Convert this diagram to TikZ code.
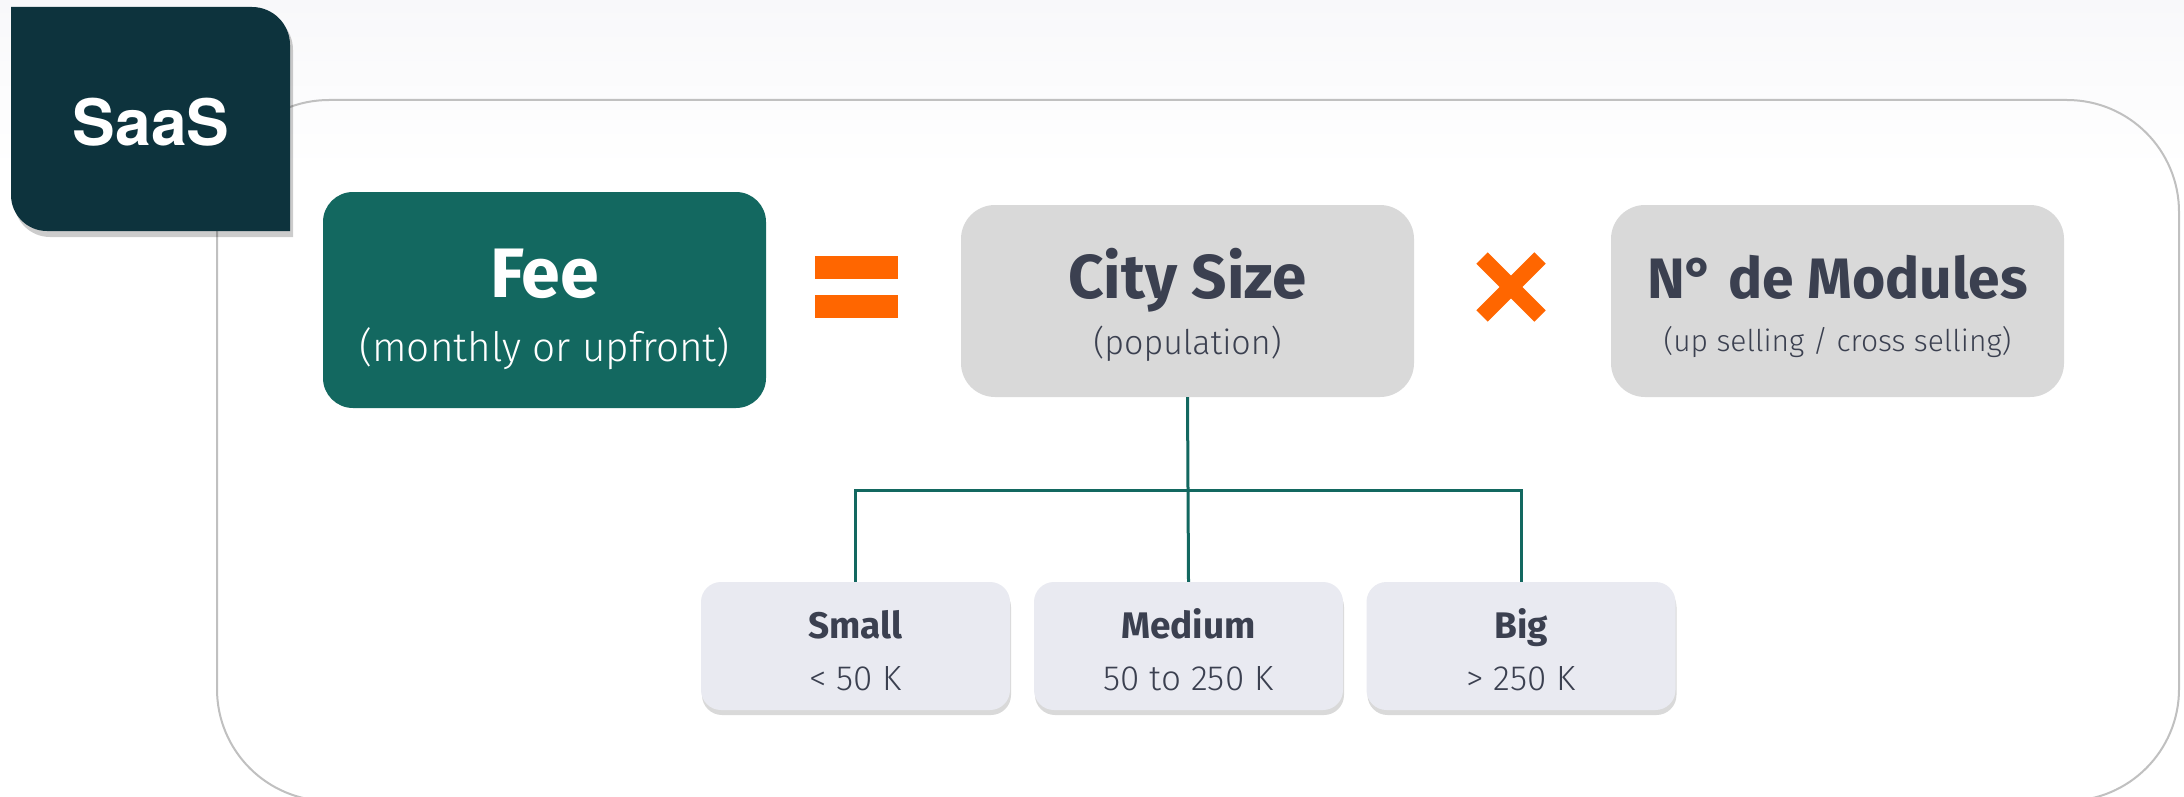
\documentclass[tikz,border=0pt]{standalone}
\usepackage{fontspec}
\usetikzlibrary{shadows}
\newfontfamily\heros{TeX Gyre Heros}
\newfontfamily\firaf{Fira Sans}
\newfontfamily\firalf{Fira Sans Light}
\definecolor{saasc}{HTML}{0D333D}
\definecolor{teal}{HTML}{136860}
\definecolor{grayb}{HTML}{D9D9D9}
\definecolor{lightb}{HTML}{E9EAF1}
\definecolor{txt}{HTML}{3B4050}
\definecolor{orng}{HTML}{FF6600}
\definecolor{frame}{HTML}{C0C0C0}
\definecolor{bgtop}{HTML}{F8F8FA}
\tikzset{
  feebox/.style={fill=teal, rounded corners=30pt, minimum width=443pt, minimum height=216pt, inner sep=0pt},
  graybox/.style={fill=grayb, rounded corners=34pt, minimum width=453pt, minimum height=192pt, inner sep=0pt},
  sizebox/.style={fill=lightb, rounded corners=20pt, minimum width=309pt, minimum height=128pt, inner sep=0pt,
     drop shadow={shadow xshift=1pt, shadow yshift=-5pt, opacity=0.15, fill=black}},
  conn/.style={draw=teal, line width=3pt},
  titlew/.style={text=white, anchor=base, inner sep=0pt},
  titled/.style={text=txt, anchor=base, inner sep=0pt},
  bar/.style={fill=orng, draw=none},
}
\begin{document}
\begin{tikzpicture}[x=1pt,y=-1pt]
\useasboundingbox (0,0) rectangle (2184,797);
% background
\fill[white] (0,0) rectangle (2184,797);
\shade[top color=bgtop, bottom color=white] (0,0) rectangle (2184,170);
% frame
\begin{scope}
\clip (0,0) rectangle (2184,797);
\draw[frame, line width=2pt, rounded corners=112pt] (217,100) rectangle (2179,801);
\end{scope}
% SaaS tab
\fill[black, opacity=0.2] (14,120) -- (14,12) -- (150,12) {[rounded corners=38pt] -- (293,12) -- (293,120)} -- (293,237) -- (150,237) {[rounded corners=36pt] -- (14,237) -- (14,120)} -- cycle;
\fill[saasc] (11,120) -- (11,7) -- (150,7) {[rounded corners=38pt] -- (290,7) -- (290,120)} -- (290,231) -- (150,231) {[rounded corners=36pt] -- (11,231) -- (11,120)} -- cycle;
\node[text=white, inner sep=0pt] (saas) at (151,122) {\heros\bfseries\fontsize{64}{70}\selectfont SaaS};
% Fee
\node[feebox] (fee) at (544.5,300) {};
\node[titlew] (feet) at (544.5,297) {\firaf\bfseries\fontsize{70}{80}\selectfont Fee};
\node[titlew] (fees) at (544.5,361) {\firalf\fontsize{40.5}{46}\selectfont (monthly or upfront)};
% equals
\fill[bar] (815,256) rectangle (898,279);
\fill[bar] (815,295) rectangle (898,318);
% City size
\node[graybox] (city) at (1187.5,301) {};
\node[titled] (cityt) at (1187.5,298) {\firaf\bfseries\fontsize{62}{70}\selectfont City Size};
\node[titled] (citys) at (1187.5,354) {\firalf\fontsize{34}{40}\selectfont (population)};
% times
\draw[orng, line width=16pt] (1482,258) -- (1540,316);
\draw[orng, line width=16pt] (1540,258) -- (1482,316);
% Modules
\node[graybox] (mod) at (1837.5,301) {};
\node[titled] (modt) at (1837.5,298) {\firaf\bfseries\fontsize{57}{66}\selectfont N° de Modules};
\node[titled] (mods) at (1837.5,351) {\firalf\fontsize{30}{36}\selectfont (up selling / cross selling)};
% size boxes
\node[sizebox] (small) at (855.5,646) {};
\node[sizebox] (medium) at (1188.5,646) {};
\node[sizebox] (big) at (1521,646) {};
\node[titled] (smallt) at (855.5,638) {\firaf\bfseries\fontsize{37}{42}\selectfont Small};
\node[titled] (smalls) at (855.5,690) {\firalf\fontsize{35}{40}\selectfont < 50 K};
\node[titled] (mediumt) at (1188.5,638) {\firaf\bfseries\fontsize{37}{42}\selectfont Medium};
\node[titled] (mediums) at (1188.5,690) {\firalf\fontsize{35}{40}\selectfont 50 to 250 K};
\node[titled] (bigt) at (1521,638) {\firaf\bfseries\fontsize{37}{42}\selectfont Big};
\node[titled] (bigs) at (1521,690) {\firalf\fontsize{35}{40}\selectfont > 250 K};
% connectors
\coordinate (j) at (1188,490);
\draw[conn] (city.south) -- (j);
\draw[conn] (small.north) |- (j) -| (big.north);
\draw[conn] (j) -- (medium.north);
\end{tikzpicture}
\end{document}
